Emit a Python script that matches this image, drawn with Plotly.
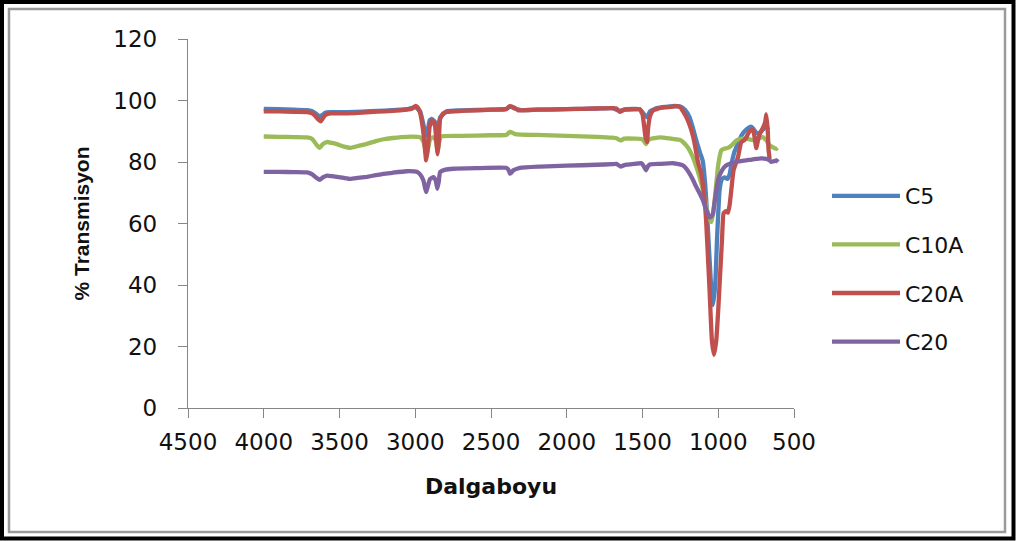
import plotly.graph_objects as go

# ---------------- data ----------------
series_names = ["C5", "C10A", "C20A", "C20"]
series_colors = ["#4F81BD", "#9BBB59", "#C0504D", "#8064A2"]

c5_wn = [4000, 3900, 3800, 3714, 3680, 3650, 3630, 3610, 3594, 3560, 3500, 3400, 3300, 3200, 3100,
         3056, 3000, 2968, 2950, 2928, 2918, 2905, 2891, 2869, 2852, 2836, 2792, 2700, 2500, 2400,
         2375, 2342, 2300, 2200, 2000, 1800, 1700, 1650, 1617, 1518, 1490, 1470, 1450, 1400, 1300,
         1250, 1220, 1189, 1167, 1145, 1120, 1103, 1085, 1068, 1050, 1035, 1020, 1008, 991, 975,
         958, 940, 925, 910, 892, 870, 848, 826, 804, 785, 771, 749, 727, 706, 683, 668]
c5_t = [97.3, 97.2, 97.0, 96.9, 96.5, 95.5, 94.8, 95.4, 96.0, 96.2, 96.2, 96.3, 96.5, 96.7, 97.0,
        97.2, 97.8, 96.5, 93.0, 88.5, 90.0, 93.5, 94.0, 93.0, 90.0, 94.5, 96.5, 96.8, 97.0, 97.2,
        98.0, 97.4, 96.9, 97.0, 97.2, 97.4, 97.5, 96.6, 97.1, 97.2, 95.5, 94.5, 96.5, 97.6, 98.2,
        98.0, 97.0, 94.5, 91.0, 87.0, 83.0, 80.5, 72.0, 58.0, 42.0, 33.5, 40.0, 55.0, 71.0, 74.5,
        75.0, 74.5, 76.0, 80.0, 83.5, 86.0, 88.5, 90.0, 91.0, 91.5, 91.0, 89.5, 89.5, 90.5, 91.3, 90.5]

c10a_wn = [4000, 3900, 3800, 3714, 3680, 3650, 3631, 3610, 3583, 3550, 3518, 3470, 3429, 3380, 3319,
           3260, 3210, 3150, 3056, 2968, 2950, 2935, 2925, 2915, 2900, 2880, 2865, 2852, 2842, 2830,
           2700, 2500, 2400, 2375, 2350, 2331, 2200, 2000, 1800, 1700, 1672, 1645, 1620, 1550, 1507,
           1490, 1478, 1465, 1452, 1386, 1300, 1254, 1233, 1210, 1189, 1167, 1145, 1120, 1101, 1085,
           1068, 1055, 1046, 1035, 1024, 1013, 1002, 990, 980, 960, 936, 910, 881, 850, 815,
           780, 749, 727, 706, 683, 661, 640, 617, 608]
c10a_t = [88.3, 88.2, 88.1, 88.0, 87.5, 85.5, 84.6, 85.8, 86.5, 86.2, 85.8, 85.0, 84.6, 85.2, 85.9,
          86.8, 87.4, 87.8, 88.2, 88.0, 87.0, 84.5, 82.0, 84.5, 87.8, 88.0, 87.0, 83.5, 86.5, 88.3,
          88.5, 88.7, 88.8, 89.8, 89.3, 89.0, 88.8, 88.5, 88.2, 87.9, 87.7, 87.0, 87.6, 87.6, 87.5,
          86.8, 85.8, 86.8, 87.5, 88.0, 87.5, 87.2, 86.5, 85.3, 83.8, 81.5, 78.5, 74.5, 70.8, 67.0,
          63.2, 61.0, 60.5, 63.0, 67.5, 73.0, 78.3, 82.0, 83.8, 84.3, 84.6, 85.5, 87.0, 87.5, 87.6,
          87.2, 87.0, 87.8, 88.1, 87.0, 85.4, 84.8, 84.3, 84.6]

c20a_wn = [4000, 3900, 3800, 3714, 3680, 3660, 3640, 3625, 3610, 3594, 3560, 3500, 3400, 3300, 3200,
           3100, 3056, 3020, 3000, 2985, 2968, 2950, 2940, 2928, 2918, 2905, 2891, 2880, 2869, 2860,
           2852, 2844, 2836, 2815, 2792, 2700, 2600, 2500, 2400, 2375, 2360, 2342, 2320, 2300, 2200,
           2100, 2000, 1900, 1800, 1700, 1672, 1650, 1630, 1617, 1550, 1518, 1500, 1490, 1480, 1470,
           1463, 1450, 1430, 1400, 1386, 1350, 1300, 1276, 1250, 1233, 1210, 1189, 1167, 1156, 1134,
           1112, 1090, 1079, 1057, 1042, 1028, 1013, 1000, 987, 975, 965, 950, 936, 925, 914,
           899, 870, 848, 830, 815, 793, 771, 760, 749, 738, 727, 706, 690, 683, 673, 668, 661]
c20a_t = [96.5, 96.5, 96.3, 96.2, 95.8, 95.0, 93.8, 93.2, 94.2, 95.3, 95.8, 95.8, 95.9, 96.2, 96.5,
          96.8, 97.0, 97.4, 98.2, 97.8, 96.0, 91.0, 86.5, 80.5, 84.0, 91.5, 93.5, 93.3, 91.5, 86.5,
          82.5, 87.0, 94.0, 95.8, 96.3, 96.6, 96.8, 97.0, 97.2, 98.2, 98.0, 97.5, 96.8, 96.8, 97.0,
          97.0, 97.2, 97.3, 97.4, 97.5, 97.4, 96.3, 96.8, 97.0, 97.1, 97.1, 95.5, 92.0, 88.0, 86.5,
          91.0, 95.0, 96.8, 97.3, 97.6, 97.8, 98.0, 98.2, 97.8, 96.5, 94.5, 92.0, 88.5, 86.0, 80.0,
          76.0, 67.6, 60.0, 38.0, 22.0, 17.3, 22.0, 32.0, 44.0, 55.0, 63.3, 64.0, 63.5, 66.0, 70.8,
          77.3, 81.5, 86.5, 87.0, 88.0, 90.0, 90.5, 88.0, 84.5, 87.0, 89.0, 91.0, 93.0, 95.5, 90.0, 84.0, 81.0]

c20_wn = [4000, 3900, 3800, 3714, 3680, 3650, 3631, 3610, 3583, 3550, 3518, 3470, 3429, 3380, 3319,
          3260, 3210, 3150, 3056, 2990, 2968, 2946, 2935, 2928, 2918, 2902, 2880, 2865, 2854, 2845,
          2836, 2800, 2748, 2600, 2400, 2385, 2375, 2360, 2353, 2309, 2177, 2000, 1800, 1700, 1672,
          1645, 1620, 1550, 1507, 1490, 1478, 1465, 1452, 1386, 1298, 1254, 1233, 1210, 1189, 1167,
          1145, 1120, 1101, 1085, 1068, 1057, 1045, 1035, 1024, 1013, 1000, 980, 960, 947, 915,
          881, 850, 815, 780, 749, 720, 683, 660, 650, 630, 617, 605]
c20_t = [76.8, 76.8, 76.7, 76.6, 76.0, 74.8, 74.2, 75.0, 75.6, 75.4, 75.2, 74.8, 74.5, 74.8, 75.2,
         75.7, 76.1, 76.5, 77.0, 76.8, 76.0, 74.0, 71.5, 70.2, 72.0, 74.5, 75.1, 74.0, 71.3, 73.5,
         76.7, 77.5, 77.8, 78.0, 78.1, 77.5, 76.2, 76.8, 77.3, 78.1, 78.5, 78.8, 79.1, 79.3, 79.4,
         78.5, 79.0, 79.4, 79.6, 78.5, 77.3, 78.5, 79.2, 79.4, 79.6, 79.2, 78.9, 77.8, 76.2, 74.2,
         71.9, 69.5, 67.6, 65.2, 63.2, 62.0, 62.3, 63.2, 67.0, 70.8, 74.5, 76.8, 78.3, 78.9, 79.6,
         80.0, 80.3, 80.5, 80.8, 81.0, 81.2, 81.0, 80.5, 80.0, 80.3, 80.5, 80.0]

x_ticks = [4500, 4000, 3500, 3000, 2500, 2000, 1500, 1000, 500]
y_ticks = [0, 20, 40, 60, 80, 100, 120]

# ---------------- figure ----------------
W, H = 1016, 541
ML, MR, MT, MB = 188, 222, 39, 133
PW, PH = W - ML - MR, H - MT - MB


def px_x(px):
    return (px - ML) / PW


def px_y(py):
    return (H - MB - py) / PH


fig = go.Figure()
all_x = [c5_wn, c10a_wn, c20a_wn, c20_wn]
all_y = [c5_t, c10a_t, c20a_t, c20_t]
for name, color, xs, ys in zip(series_names, series_colors, all_x, all_y):
    fig.add_trace(go.Scatter(
        x=xs, y=ys, mode="lines", name=name, legendgroup=name,
        line=dict(color=color, width=4.3, shape="spline", smoothing=0.4),
    ))

axis_col = "#868686"
font_fam = "DejaVu Sans"

fig.update_layout(
    width=W, height=H,
    margin=dict(l=ML, r=MR, t=MT, b=MB, autoexpand=False),
    paper_bgcolor="white", plot_bgcolor="white",
    showlegend=True,
    legend=dict(
        x=px_x(827), xanchor="left", y=px_y(175), yanchor="top",
        font=dict(family=font_fam, size=22, color="#111111"),
        itemwidth=68, tracegroupgap=17, traceorder="grouped",
        bgcolor="rgba(0,0,0,0)", borderwidth=0,
    ),
    xaxis=dict(
        range=[4500, 500], autorange=False, tickmode="array", tickvals=x_ticks,
        ticktext=[str(v) for v in x_ticks],
        showgrid=False, zeroline=False, showline=True, linecolor=axis_col, linewidth=1.3,
        ticks="outside", ticklen=9, tickcolor=axis_col, tickwidth=1.3,
        tickfont=dict(family=font_fam, size=23, color="#111111"),
        ticklabelstandoff=4,
        title=dict(text="<b>Dalgaboyu</b>", font=dict(family=font_fam, size=22, color="#111111"),
                   standoff=24),
    ),
    yaxis=dict(
        range=[0, 120], autorange=False, tickmode="array", tickvals=y_ticks,
        showgrid=False, zeroline=False, showline=True, linecolor=axis_col, linewidth=1.3,
        ticks="outside", ticklen=9, tickcolor=axis_col, tickwidth=1.3,
        tickfont=dict(family=font_fam, size=23, color="#111111"),
        ticklabelstandoff=16,
        title=dict(text="<b>% Transmisyon</b>",
                   font=dict(family="Liberation Sans", size=21, color="#111111"),
                   standoff=17),
    ),
)

# outer frame (black) and inner frame (grey shadow)
fig.add_shape(type="rect", xref="paper", yref="paper",
              x0=px_x(2), x1=px_x(1013.5), y0=px_y(538.5), y1=px_y(2),
              line=dict(color="black", width=4), fillcolor="rgba(0,0,0,0)", layer="above")
fig.add_shape(type="rect", xref="paper", yref="paper",
              x0=px_x(9), x1=px_x(1005), y0=px_y(532), y1=px_y(9),
              line=dict(color="#9a9a9a", width=2.5), fillcolor="rgba(0,0,0,0)", layer="above")

fig.write_html("out.html")
